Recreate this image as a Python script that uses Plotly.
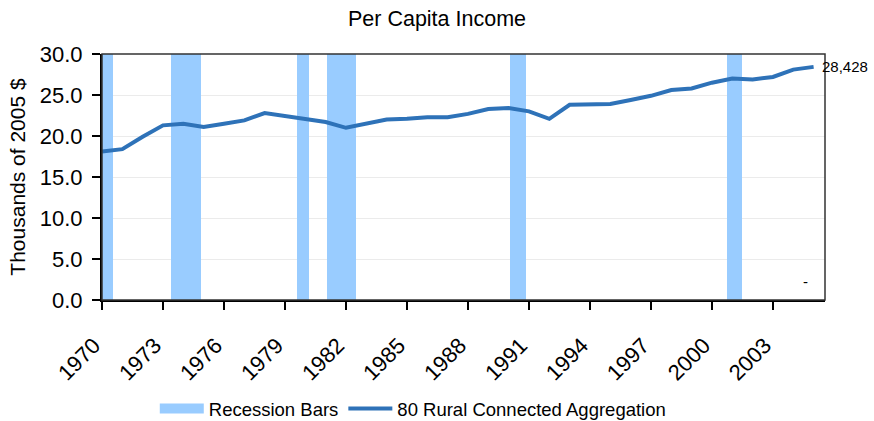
import plotly.graph_objects as go

years = list(range(1970, 2006))
income = [18.1, 18.4, 19.9, 21.3, 21.5, 21.1, 21.5, 21.9, 22.8, 22.4,
          22.0, 21.7, 21.0, 21.5, 22.0, 22.1, 22.3, 22.3, 22.7, 23.3,
          23.4, 23.0, 22.1, 23.8, 23.8, 23.9, 24.4, 24.9, 25.6, 25.8,
          26.5, 27.0, 26.9, 27.2, 28.1, 28.428]

rec_start = [1970.0, 1973.39, 1979.59, 1981.07, 1990.07, 2000.74]
rec_end = [1970.53, 1974.87, 1980.18, 1982.49, 1990.84, 2001.48]
rec_height = 30

tick_years = list(range(1970, 2004, 3))
last_label = "28,428"

rec_x = [(s + e) / 2 for s, e in zip(rec_start, rec_end)]
rec_w = [e - s for s, e in zip(rec_start, rec_end)]

BAR_COLOR = "#99CCFF"
LINE_COLOR = "#2E72B8"

fig = go.Figure()
fig.add_trace(go.Bar(
    x=rec_x, y=[rec_height] * len(rec_x), width=rec_w,
    marker=dict(color=BAR_COLOR, line=dict(width=0)),
    name="Recession Bars", hoverinfo="skip", showlegend=False,
    legendgroup="rec"))
# legend entry for the recession bars (wide patch as in the reference)
fig.add_trace(go.Scatter(
    x=[None], y=[None], mode="lines",
    line=dict(color=BAR_COLOR, width=14),
    name="Recession Bars", legendgroup="rec"))
fig.add_trace(go.Scatter(
    x=years, y=income, mode="lines",
    line=dict(color=LINE_COLOR, width=4),
    name="80 Rural Connected Aggregation"))

fig.add_annotation(x=years[-1], y=income[-1], text=last_label, showarrow=False,
                   xanchor="left", xshift=6, font=dict(size=15, color="black"))
fig.add_annotation(x=2004.6, y=2.2, text="-", showarrow=False,
                   font=dict(size=15, color="black"))

fig.add_shape(type="rect", xref="paper", yref="paper", x0=0, x1=1, y0=0, y1=1,
              line=dict(color="#333333", width=1.5), layer="above")

fig.update_layout(
    width=874, height=421,
    margin=dict(l=102, r=49, t=54, b=121, autoexpand=False),
    paper_bgcolor="white", plot_bgcolor="white",
    font=dict(family="Liberation Sans, Arial, sans-serif", color="black", size=20),
    title=dict(text="Per Capita Income", x=0.5, xanchor="center", y=0.955,
               yanchor="middle", font=dict(size=21.5)),
    barmode="overlay", bargap=0,
    showlegend=True,
    legend=dict(orientation="h", x=0.073, xanchor="left", y=-0.443, yanchor="middle",
                font=dict(size=18.5), itemwidth=44, traceorder="normal"),
    xaxis=dict(range=[1970, 2005.56], tickvals=tick_years, tickangle=-45,
               ticks="outside", ticklen=8, tickwidth=2, tickcolor="black",
               ticklabelstandoff=14, ticklabelshift=-8,
               showline=True, linecolor="black", linewidth=2, automargin=False,
               showgrid=False, zeroline=False, tickfont=dict(size=22)),
    yaxis=dict(range=[0, 30], dtick=5, tickformat=".1f",
               ticks="outside", ticklen=8, tickwidth=2, tickcolor="black",
               ticklabelstandoff=5,
               showline=True, linecolor="black", linewidth=2, automargin=False,
               showgrid=True, gridcolor="#EBEBEB", gridwidth=1, zeroline=False,
               title=dict(text="Thousands of 2005 $", font=dict(size=21), standoff=8),
               tickfont=dict(size=22)),
)

fig.write_html("out.html", config={"displayModeBar": False},
               post_script="document.body.style.margin='0px';document.body.style.overflow='hidden';")
